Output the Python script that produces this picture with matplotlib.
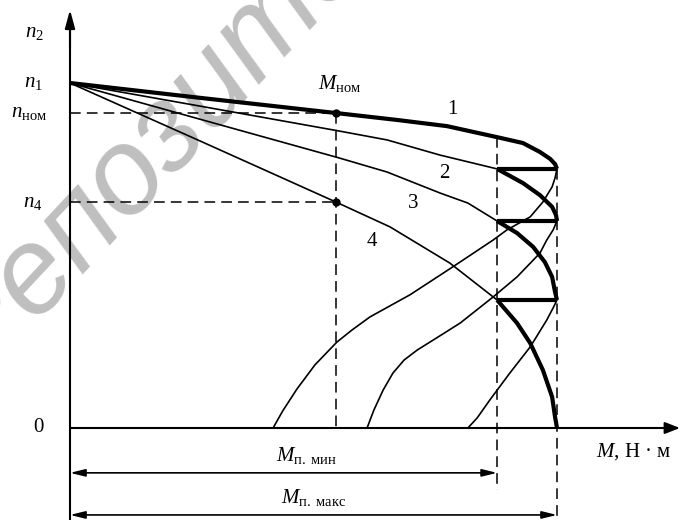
import matplotlib.pyplot as plt

plt.rcParams['font.family'] = ['Liberation Serif', 'DejaVu Serif']
plt.rcParams['mathtext.fontset'] = 'custom'
plt.rcParams['mathtext.rm'] = 'Liberation Serif'
plt.rcParams['mathtext.it'] = 'Liberation Serif:italic'

# torque in units of the peak torque, speed in units of n1
m_nom = 0.546
m_min = 0.877
m_max = 1.0
n_nom = 0.913
n_4 = 0.655
step_n = [0.751, 0.6, 0.371]

# natural characteristic 1
c1_m = [0.0, 0.267, 0.546, 0.671, 0.774, 0.877, 0.930, 0.965, 0.986, 0.996, 1.0]
c1_n = [1.0, 0.957, 0.913, 0.893, 0.875, 0.843, 0.826, 0.800, 0.780, 0.765, 0.751]
c1_low_m = [1.0, 0.996, 0.990, 0.971, 0.945, 0.897, 0.869, 0.786, 0.698,
            0.616, 0.579, 0.548, 0.503, 0.466, 0.437, 0.417]
c1_low_n = [0.751, 0.725, 0.699, 0.655, 0.612, 0.574, 0.545, 0.467, 0.386,
            0.322, 0.284, 0.249, 0.183, 0.113, 0.050, 0.0]

# rheostat characteristic 2
c2_m = [0.0, 0.267, 0.552, 0.651, 0.760, 0.877]
c2_n = [1.0, 0.933, 0.861, 0.835, 0.791, 0.751]
c2_run_m = [0.877, 0.930, 0.965, 0.990, 0.998, 1.0]
c2_run_n = [0.751, 0.710, 0.675, 0.641, 0.617, 0.6]
c2_low_m = [1.0, 0.992, 0.979, 0.965, 0.918, 0.869, 0.801, 0.756,
            0.713, 0.686, 0.663, 0.643, 0.624, 0.610]
c2_low_n = [0.6, 0.574, 0.545, 0.507, 0.438, 0.380, 0.304, 0.264,
            0.226, 0.197, 0.159, 0.110, 0.052, 0.0]

# rheostat characteristic 3
c3_m = [0.0, 0.267, 0.552, 0.651, 0.760, 0.817, 0.877]
c3_n = [1.0, 0.895, 0.783, 0.742, 0.681, 0.652, 0.6]
c3_run_m = [0.877, 0.918, 0.951, 0.975, 0.990, 0.996, 1.0]
c3_run_n = [0.6, 0.565, 0.525, 0.481, 0.438, 0.394, 0.371]
c3_low_m = [1.0, 0.992, 0.979, 0.945, 0.903, 0.862, 0.836, 0.817]
c3_low_n = [0.371, 0.348, 0.313, 0.235, 0.159, 0.081, 0.029, 0.0]

# rheostat characteristic 4
c4_m = [0.0, 0.267, 0.546, 0.657, 0.780, 0.877]
c4_n = [1.0, 0.832, 0.655, 0.583, 0.478, 0.371]
c4_run_m = [0.877, 0.918, 0.945, 0.971, 0.990, 0.996, 1.0]
c4_run_n = [0.371, 0.304, 0.246, 0.168, 0.090, 0.032, 0.0]

fig = plt.figure(figsize=(6.8, 5.2), dpi=100)
ax = fig.add_axes([0, 0, 1, 1])
ax.set_xlim(-70 / 487, 610 / 487)
ax.set_ylim(-92 / 345, 428 / 345)
ax.axis('off')

ax.text(222 / 680, 1 - 74 / 520, 'Репозиторий', transform=ax.transAxes,
        rotation=47, rotation_mode='anchor', ha='center', va='center',
        fontsize=88, family='Liberation Sans', style='italic',
        color='#bfbfbf', zorder=0)

thin = dict(color='black', lw=1.2, solid_capstyle='round', solid_joinstyle='round')
thick = dict(color='black', lw=3.0, solid_capstyle='butt', solid_joinstyle='round')
dash = dict(color='black', lw=1.1, dashes=(7, 4))

ax.plot(c1_m, c1_n, **thick)
ax.plot(c1_low_m, c1_low_n, **thin)
for um, un in [(c2_m, c2_n), (c3_m, c3_n), (c4_m, c4_n),
               (c2_low_m, c2_low_n), (c3_low_m, c3_low_n)]:
    ax.plot(um, un, **thin)
for rm, rn in [(c2_run_m, c2_run_n), (c3_run_m, c3_run_n), (c4_run_m, c4_run_n)]:
    ax.plot(rm, rn, **thick)
for s in step_n:
    ax.plot([m_min, m_max], [s, s], **thick)

# guide lines
ax.plot([0, m_nom], [n_nom, n_nom], **dash)
ax.plot([0, m_nom], [n_4, n_4], **dash)
ax.plot([m_nom, m_nom], [n_nom, 0], **dash)
ax.plot([m_min, m_min], [c1_n[5], -0.18], **dash)
ax.plot([m_max, m_max], [step_n[0], -0.27], **dash)
ax.plot([m_nom, m_nom], [n_nom, n_4], 'o', color='black', ms=5)

# axes with arrows
ax.plot([0, 0], [-0.27, 1.18], color='black', lw=1.5)
ax.annotate('', xy=(0, 1.212), xytext=(0, 1.1),
            arrowprops=dict(arrowstyle='-|>,head_length=1.1,head_width=0.3',
                            color='black', lw=1.5, shrinkA=0, shrinkB=0))
ax.annotate('', xy=(610 / 487, 0), xytext=(0, 0),
            arrowprops=dict(arrowstyle='-|>,head_length=0.9,head_width=0.35',
                            color='black', lw=1.5, shrinkA=0, shrinkB=0))

# torque range arrows
for val, y in [(m_min, -0.130), (m_max, -0.252)]:
    ax.annotate('', xy=(val, y), xytext=(0, y),
                arrowprops=dict(arrowstyle='<|-|>,head_length=0.9,head_width=0.22',
                                color='black', lw=1.2, shrinkA=0, shrinkB=0))

def px(x, y):
    return (x - 70) / 487, (428 - y) / 345

fs = 15
ax.text(*px(34, 33), r'$n_2$', fontsize=fs, ha='center', va='center')
ax.text(*px(33, 83), r'$n_1$', fontsize=fs, ha='center', va='center')
ax.text(*px(29, 113), r'$n_{\mathrm{ном}}$', fontsize=fs, ha='center', va='center')
ax.text(*px(33, 202), r'$n_4$', fontsize=fs, ha='center', va='center')
ax.text(*px(38, 428), '0', fontsize=fs, ha='center', va='center')
ax.text(*px(340, 84), r'$M_{\mathrm{ном}}$', fontsize=fs, ha='center', va='center')
ax.text(*px(452, 110), '1', fontsize=fs, ha='center', va='center')
ax.text(*px(444, 174), '2', fontsize=fs, ha='center', va='center')
ax.text(*px(413, 203), '3', fontsize=fs, ha='center', va='center')
ax.text(*px(372, 242), '4', fontsize=fs, ha='center', va='center')
ax.text(*px(634, 452), r'$M$, Н · м', fontsize=fs, ha='center', va='center')
ax.text(*px(307, 455), r'$M_{\mathrm{п.\ мин}}$', fontsize=fs, ha='center', va='center')
ax.text(*px(314, 498), r'$M_{\mathrm{п.\ макс}}$', fontsize=fs, ha='center', va='center')

fig.savefig('out.png', dpi=100)
